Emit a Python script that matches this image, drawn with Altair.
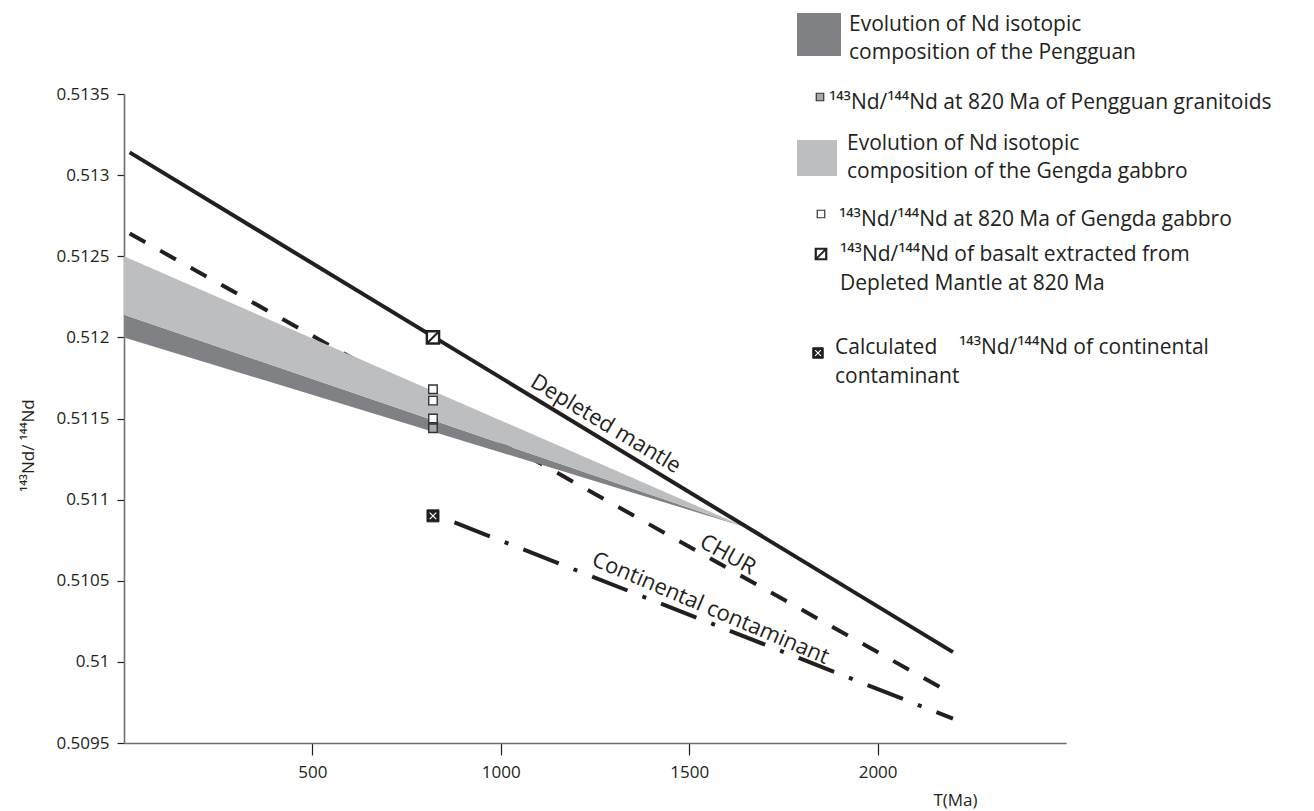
import numpy as np
import pandas as pd
import altair as alt

FONT = "Open Sans"
INK = "#231f20"
DARK = "#808184"
LIGHT = "#bcbec0"
AXIS_GRAY = "#6d6e71"

# ---------------- data ----------------
T_DM = [15, 2200]
DM = [0.51314, 0.51006]            # Depleted mantle
T_CHUR = [15, 2200]
CHUR = [0.51264, 0.50980]          # CHUR
T_CONT = [877, 2200]
CONT = [0.51086, 0.50965]          # Continental contaminant

T_BAND = [0, 1650]
GENGDA_TOP = [0.51250, 0.51083]
GENGDA_BOT = [0.51214, 0.51083]
PENG_TOP = [0.51214, 0.51083]
PENG_BOT = [0.51200, 0.51083]

T_SAMPLE = 820
GENGDA = [0.51168, 0.51161, 0.51150]
PENGGUAN = [0.51147, 0.51144]
DM_BASALT = [0.51200]
CONTAM = [0.51090]

X_TICKS = [500, 1000, 1500, 2000]
Y_TICKS = [0.5095, 0.5100, 0.5105, 0.5110, 0.5115, 0.5120, 0.5125, 0.5130, 0.5135]
X_DOMAIN = [0, 2500]
Y_DOMAIN = [0.5095, 0.5135]

LINE_LABELS = ["Depleted mantle", "CHUR", "Continental contaminant"]
LABEL_T = [1258, 1587, 1542]

LEGEND_BLOCK1 = ["Evolution of Nd isotopic", "composition of the Pengguan"]
LEGEND_PENG = "¹⁴³Nd/¹⁴⁴Nd at 820 Ma of Pengguan granitoids"
LEGEND_BLOCK3 = ["Evolution of Nd isotopic", "composition of the Gengda gabbro"]
LEGEND_GENG = "¹⁴³Nd/¹⁴⁴Nd at 820 Ma of Gengda gabbro"
LEGEND_BASALT = ["¹⁴³Nd/¹⁴⁴Nd of basalt extracted from", "Depleted Mantle at 820 Ma"]
LEGEND_CONT = ["Calculated\u00a0\u00a0\u00a0\u00a0¹⁴³Nd/¹⁴⁴Nd of continental", "contaminant"]

W, H = 942, 649
LEG_FS = 21


def xenc(field="T"):
    return alt.X(
        f"{field}:Q",
        scale=alt.Scale(domain=X_DOMAIN, nice=False, zero=False),
        axis=alt.Axis(
            values=X_TICKS, format="d", grid=False,
            domainColor=AXIS_GRAY, domainWidth=1.6,
            tickColor=INK, tickWidth=1.2, tickSize=12,
            labelFont=FONT, labelFontSize=17, labelColor=INK, labelPadding=9,
            labelFlush=False,
            title="T(Ma)", titleFont=FONT, titleFontSize=17, titleFontWeight="normal",
            titleColor=INK, titleX=831, titleY=57, titleAlign="center",
            titleBaseline="middle",
        ),
    )


def yenc(field="v"):
    return alt.Y(
        f"{field}:Q",
        scale=alt.Scale(domain=Y_DOMAIN, nice=False, zero=False),
        axis=alt.Axis(
            values=Y_TICKS, format=".4~f", grid=False,
            domainColor=AXIS_GRAY, domainWidth=1.6,
            tickColor=INK, tickWidth=1.2, tickSize=7,
            labelFont=FONT, labelFontSize=17, labelColor=INK, labelPadding=8,
            title="¹⁴³Nd/ ¹⁴⁴Nd", titleFont=FONT, titleFontSize=17,
            titleFontWeight="normal", titleColor=INK, titleAngle=270,
            titleX=-96, titleY=351, titleAlign="center", titleBaseline="middle",
        ),
    )


layers = []

# CHUR (drawn under the bands)
chur_df = pd.DataFrame({"T": T_CHUR, "v": CHUR})
layers.append(alt.Chart(chur_df).mark_line(color=INK, strokeWidth=4, strokeDash=[18, 17],
                                           strokeCap="butt").encode(x=xenc(), y=yenc()))

# bands
band_df = pd.DataFrame({"T": T_BAND, "gt": GENGDA_TOP, "gb": GENGDA_BOT,
                        "pt": PENG_TOP, "pb": PENG_BOT})
layers.append(alt.Chart(band_df).mark_area(color=DARK, opacity=1).encode(
    x=xenc(), y=yenc("pt"), y2=alt.Y2("pb:Q")))
layers.append(alt.Chart(band_df).mark_area(color=LIGHT, opacity=1).encode(
    x=xenc(), y=yenc("gt"), y2=alt.Y2("gb:Q")))

# Depleted mantle
dm_df = pd.DataFrame({"T": T_DM, "v": DM})
layers.append(alt.Chart(dm_df).mark_line(color=INK, strokeWidth=4).encode(x=xenc(), y=yenc()))

# Continental contaminant
cont_df = pd.DataFrame({"T": T_CONT, "v": CONT})
layers.append(alt.Chart(cont_df).mark_line(color=INK, strokeWidth=4, strokeDash=[38, 16, 4, 16],
                                           strokeCap="butt").encode(x=xenc(), y=yenc()))

# samples at 820 Ma
geng_df = pd.DataFrame({"T": [T_SAMPLE] * len(GENGDA), "v": GENGDA})
peng_df = pd.DataFrame({"T": [T_SAMPLE] * len(PENGGUAN), "v": PENGGUAN})
layers.append(alt.Chart(peng_df).mark_point(shape="square", filled=True, fill="#a7a9ac",
                                            stroke="#333333", strokeWidth=1.4, size=72,
                                            opacity=1).encode(x=xenc(), y=yenc()))
layers.append(alt.Chart(geng_df).mark_point(shape="square", filled=True, fill="white",
                                            stroke="#333333", strokeWidth=1.4, size=72,
                                            opacity=1).encode(x=xenc(), y=yenc()))

basalt_df = pd.DataFrame({"T": [T_SAMPLE], "v": DM_BASALT})
layers.append(alt.Chart(basalt_df).mark_point(shape="square", filled=True, fill="white",
                                              stroke=INK, strokeWidth=2.4, size=150,
                                              opacity=1).encode(x=xenc(), y=yenc()))
layers.append(alt.Chart(basalt_df).mark_point(shape="M-1,1L1,-1", filled=False, stroke=INK,
                                              strokeWidth=2, size=150,
                                              opacity=1).encode(x=xenc(), y=yenc()))

contam_df = pd.DataFrame({"T": [T_SAMPLE], "v": CONTAM})
layers.append(alt.Chart(contam_df).mark_point(shape="square", filled=True, fill=INK,
                                              stroke=INK, strokeWidth=1, size=144,
                                              opacity=1).encode(x=xenc(), y=yenc()))
layers.append(alt.Chart(contam_df).mark_point(
    shape="M-0.55,-0.55L0.55,0.55M-0.55,0.55L0.55,-0.55", filled=False, stroke="white",
    strokeWidth=1.2, size=144, opacity=1).encode(x=xenc(), y=yenc()))

# line labels
line_sets = [(T_DM, DM), (T_CHUR, CHUR), (T_CONT, CONT)]
angles = [31, 29, 23]
dys = [-8, -5, -7]
for lab, t, (tx, vy), ang, dy in zip(LINE_LABELS, LABEL_T, line_sets, angles, dys):
    v = float(np.interp(t, tx, vy))
    df = pd.DataFrame({"T": [t], "v": [v], "label": [lab]})
    layers.append(alt.Chart(df).mark_text(font=FONT, fontSize=22, color=INK, angle=ang,
                                          align="center", baseline="alphabetic", dy=dy)
                  .encode(x=xenc(), y=yenc(), text="label:N"))

# ---------------- legend (drawn by hand) ----------------
one = pd.DataFrame({"a": [0]})


def rect(x1, x2, y1, y2, color):
    return alt.Chart(one).mark_rect(color=color, opacity=1).encode(
        x=alt.value(x1), x2=alt.value(x2), y=alt.value(y1), y2=alt.value(y2))


def sym(x, y, **kw):
    return alt.Chart(one).mark_point(opacity=1, **kw).encode(x=alt.value(x), y=alt.value(y))


def txt(x, y, s):
    return alt.Chart(one).mark_text(font=FONT, fontSize=LEG_FS, color=INK, align="left",
                                    baseline="middle").encode(
        x=alt.value(x), y=alt.value(y), text=alt.value(s))


layers.append(rect(673, 717, -81, -38, DARK))
layers.append(txt(725, -69, LEGEND_BLOCK1[0]))
layers.append(txt(725, -41, LEGEND_BLOCK1[1]))
layers.append(sym(696, 3, shape="square", filled=True, fill="#a7a9ac", stroke="#333333",
                  strokeWidth=1.2, size=56))
layers.append(txt(705, 9, LEGEND_PENG))
layers.append(rect(673, 713, 46, 82, LIGHT))
layers.append(txt(723, 50, LEGEND_BLOCK3[0]))
layers.append(txt(723, 78, LEGEND_BLOCK3[1]))
layers.append(sym(697, 120, shape="square", filled=True, fill="white", stroke="#333333",
                  strokeWidth=1.2, size=56))
layers.append(txt(715, 126, LEGEND_GENG))
layers.append(sym(697, 160, shape="square", filled=True, fill="white", stroke=INK,
                  strokeWidth=2.2, size=110))
layers.append(sym(697, 160, shape="M-1,1L1,-1", filled=False, stroke=INK, strokeWidth=1.8,
                  size=110))
layers.append(txt(716, 161, LEGEND_BASALT[0]))
layers.append(txt(716, 190, LEGEND_BASALT[1]))
layers.append(sym(694, 259, shape="square", filled=True, fill=INK, stroke=INK, strokeWidth=1,
                  size=110))
layers.append(sym(694, 259, shape="M-0.55,-0.55L0.55,0.55M-0.55,0.55L0.55,-0.55", filled=False,
                  stroke="white", strokeWidth=1.1, size=110))
layers.append(txt(711, 254, LEGEND_CONT[0]))
layers.append(txt(711, 283, LEGEND_CONT[1]))

chart = alt.layer(*layers).properties(
    width=W, height=H,
    autosize=alt.AutoSizeParams(type="none"),
    padding={"left": 116, "top": 86, "right": 240, "bottom": 68},
).configure_view(stroke=None)

chart.save("out.html", embed_options={"renderer": "svg", "actions": False})
